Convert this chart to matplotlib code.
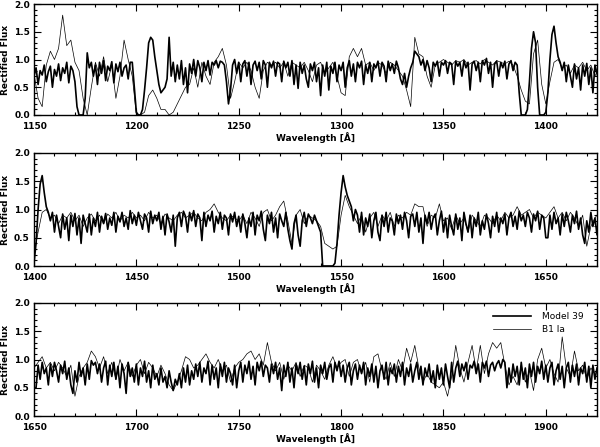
import numpy as np
import matplotlib
matplotlib.use("Agg")
import matplotlib.pyplot as plt
from matplotlib.ticker import MultipleLocator

# ---------------- data ----------------
# Model 39 (thick line), 1 Angstrom sampling starting at 1150 A
model_1150 = [0.70, 0.85, 0.55, 0.80, 0.72, 0.90, 0.60, 0.78, 0.88, 0.50,
              0.82, 0.70, 0.92, 0.62, 0.85, 0.75, 0.95, 0.58, 0.88, 0.80,
              0.60, 0.15, 0.00, 0.00, 0.00, 0.30, 1.12, 0.85, 0.95, 0.70,
              0.90, 0.55, 0.95, 0.75, 0.98, 0.62, 0.88, 0.80, 0.96, 0.58,
              0.92, 0.78, 0.95, 0.70, 0.85, 0.90, 0.65, 0.95, 0.95, 0.50]
model_1200 = [0.05, 0.00, 0.00, 0.10, 0.45, 0.85, 1.30, 1.40, 1.35, 1.05,
              0.80, 0.55, 0.40, 0.45, 0.50, 0.65, 1.40, 0.70, 0.95, 0.60,
              0.90, 0.65, 0.98, 0.55, 0.85, 0.40, 0.92, 0.75, 1.00, 0.70,
              0.98, 0.85, 0.60, 0.95, 0.80, 0.98, 0.72, 0.95, 0.90, 0.98,
              0.85, 0.97, 0.95, 0.90, 0.60, 0.20, 0.45, 0.90, 1.00, 0.75]
model_1250 = [0.95, 0.60, 0.92, 0.98, 0.70, 0.95, 0.55, 0.90, 0.97, 0.80,
              0.95, 0.65, 0.98, 0.90, 0.50, 0.95, 0.85, 0.97, 0.70, 0.95,
              0.92, 0.60, 0.97, 0.85, 0.95, 0.70, 0.98, 0.55, 0.90, 0.48,
              0.95, 0.75, 0.90, 0.65, 0.50, 0.92, 0.80, 0.95, 0.60, 0.85,
              0.35, 0.90, 0.70, 0.95, 0.45, 0.88, 0.75, 0.95, 0.60, 0.90]
model_1300 = [0.80, 0.95, 0.50, 0.85, 0.98, 0.70, 0.92, 0.60, 0.95, 0.85,
              0.97, 0.55, 0.90, 0.75, 0.95, 0.60, 0.92, 0.85, 0.97, 0.70,
              0.95, 0.88, 0.60, 0.97, 0.80, 0.92, 0.75, 0.97, 0.85, 0.65,
              0.55, 0.75, 0.50, 0.70, 0.85, 0.95, 1.15, 1.10, 1.05, 0.90,
              1.00, 0.80, 0.98, 0.85, 0.60, 0.95, 0.88, 0.97, 0.70, 0.95]
model_1350 = [0.90, 0.98, 0.75, 0.95, 0.92, 0.55, 0.97, 0.88, 0.95, 0.70,
              0.98, 0.85, 0.95, 0.45, 0.92, 0.97, 0.80, 0.95, 0.60, 0.98,
              0.90, 1.02, 0.75, 0.95, 0.50, 0.92, 0.97, 0.70, 0.95, 0.85,
              0.97, 0.65, 0.92, 0.98, 0.80, 0.95, 0.90, 0.40, 0.00, 0.00,
              0.00, 0.10, 0.60, 1.20, 1.50, 1.30, 0.50, 0.00, 0.00, 0.00]
model_1400 = [0.05, 0.40, 1.00, 1.45, 1.60, 1.30, 1.05, 0.95, 0.80, 0.95,
              0.60, 0.90, 0.70, 0.50, 0.92, 0.65, 0.85, 0.45, 0.90, 0.70,
              0.93, 0.55, 0.85, 0.40, 0.90, 0.75, 0.60, 0.92, 0.55, 0.85,
              0.70, 0.95, 0.60, 0.88, 0.75, 0.93, 0.65, 0.85, 0.72, 0.95,
              0.60, 0.88, 0.78, 0.95, 0.70, 0.85, 0.65, 0.98, 0.75, 0.90]
model_1450 = [0.72, 0.95, 0.80, 0.65, 0.92, 0.85, 0.60, 0.97, 0.75, 0.90,
              0.80, 0.95, 0.65, 0.88, 0.55, 0.92, 0.78, 0.60, 0.90, 0.35,
              0.85, 0.95, 0.70, 0.97, 0.88, 0.60, 0.95, 0.80, 0.98, 0.70,
              0.92, 0.85, 0.45, 0.95, 0.70, 0.90, 0.80, 0.97, 0.60, 0.88,
              0.75, 0.95, 0.65, 0.90, 0.85, 0.55, 0.92, 0.78, 0.95, 0.70]
model_1500 = [0.88, 0.60, 0.92, 0.75, 0.50, 0.85, 0.70, 0.95, 0.55, 0.90,
              0.80, 0.97, 0.65, 0.45, 0.90, 0.75, 0.95, 0.60, 0.85, 0.50,
              0.92, 0.80, 0.70, 0.95, 0.65, 0.45, 0.30, 0.75, 0.90, 0.55,
              0.35, 0.80, 0.95, 0.70, 0.92, 0.85, 0.75, 0.90, 0.80, 0.70,
              0.60, 0.00, 0.00, 0.00, 0.00, 0.00, 0.00, 0.05, 0.40, 0.90]
model_1550 = [1.30, 1.60, 1.40, 1.25, 1.15, 1.05, 0.80, 1.00, 0.90, 0.60,
              0.95, 0.55, 0.85, 0.70, 0.92, 0.50, 0.80, 0.95, 0.60, 0.45,
              0.90, 0.70, 0.95, 0.60, 0.85, 0.80, 0.55, 0.92, 0.75, 0.90,
              0.65, 0.95, 0.80, 0.50, 0.88, 0.92, 0.70, 0.95, 0.60, 0.85,
              0.40, 0.90, 0.75, 0.95, 0.65, 0.85, 0.92, 0.55, 0.80, 0.97]
model_1600 = [0.60, 0.85, 0.50, 0.90, 0.70, 0.55, 0.92, 0.65, 0.85, 0.45,
              0.95, 0.75, 0.60, 0.90, 0.50, 0.85, 0.70, 0.95, 0.55, 0.80,
              0.65, 0.92, 0.75, 0.50, 0.88, 0.70, 0.95, 0.60, 0.85, 0.75,
              0.92, 0.55, 0.85, 0.95, 0.70, 0.88, 0.65, 0.97, 0.80, 0.90,
              0.70, 0.95, 0.85, 0.60, 0.92, 0.80, 0.97, 0.65, 0.90, 0.85]
model_1650 = [0.50, 0.50, 0.90, 0.65, 0.95, 0.75, 0.85, 0.55, 0.92, 0.70,
              0.95, 0.80, 0.60, 0.90, 0.75, 0.97, 0.65, 0.85, 0.55, 0.40,
              0.80, 0.60, 0.95, 0.70, 0.85, 0.55, 0.92, 0.65, 0.98, 0.90,
              0.95, 0.75, 0.92, 0.60, 0.85, 0.97, 0.55, 0.90, 0.70, 0.95,
              0.65, 0.88, 0.50, 0.92, 0.75, 0.40, 0.95, 0.70, 0.85, 0.60]
model_1700 = [0.92, 0.55, 0.85, 0.70, 0.97, 0.60, 0.80, 0.50, 0.90, 0.65,
              0.75, 0.55, 0.85, 0.60, 0.70, 0.50, 0.80, 0.60, 0.45, 0.65,
              0.55, 0.75, 0.50, 0.85, 0.60, 0.90, 0.55, 0.80, 0.65, 0.92,
              0.70, 0.95, 0.60, 0.85, 0.75, 0.97, 0.55, 0.90, 0.65, 0.85,
              0.50, 0.92, 0.70, 0.95, 0.60, 0.85, 0.75, 0.55, 0.90, 0.50]
model_1750 = [0.80, 0.95, 0.60, 0.90, 0.75, 0.97, 0.65, 0.88, 0.55, 0.95,
              0.80, 0.97, 0.70, 0.90, 0.85, 0.60, 0.92, 0.75, 0.95, 0.65,
              0.85, 0.45, 0.90, 0.70, 0.95, 0.60, 0.85, 0.50, 0.92, 0.75,
              0.95, 0.65, 0.88, 0.55, 0.92, 0.75, 0.97, 0.60, 0.85, 0.50,
              0.90, 0.75, 0.95, 0.65, 0.85, 0.92, 0.60, 0.95, 0.80, 0.97]
model_1800 = [0.70, 0.90, 0.60, 0.85, 0.95, 0.55, 0.80, 0.92, 0.65, 0.90,
              0.75, 0.95, 0.55, 0.85, 0.70, 0.92, 0.60, 0.88, 0.50, 0.80,
              0.90, 0.65, 0.95, 0.55, 0.85, 0.75, 0.92, 0.60, 0.88, 0.70,
              0.95, 0.55, 0.85, 0.70, 0.92, 0.60, 0.80, 0.95, 0.65, 0.88,
              0.55, 0.85, 0.70, 0.92, 0.60, 0.80, 0.50, 0.90, 0.65, 0.85]
model_1850 = [0.55, 0.92, 0.70, 0.50, 0.95, 0.60, 0.85, 0.97, 0.70, 0.92,
              0.80, 0.95, 0.65, 0.90, 0.85, 0.97, 0.75, 0.92, 0.60, 0.95,
              0.85, 0.97, 0.70, 0.90, 0.95, 0.80, 0.92, 0.98, 0.85, 1.00,
              0.95, 0.50, 0.85, 0.60, 0.92, 0.70, 0.88, 0.55, 0.95, 0.65,
              0.85, 0.50, 0.92, 0.70, 0.95, 0.60, 0.88, 0.75, 0.97, 0.65]
model_1900 = [0.90, 0.60, 0.85, 0.95, 0.55, 0.80, 0.92, 0.65, 0.88, 0.50,
              0.85, 0.95, 0.60, 0.90, 0.70, 0.92, 0.55, 0.85, 0.75, 0.95,
              0.60, 0.88, 0.50, 0.90, 0.65, 0.85]

# B1 Ia (thin line), 2 Angstrom sampling starting at 1150 A
star_1150 = [0.75, 0.30, 0.15, 0.90, 1.15, 1.00, 1.20, 1.80, 1.25, 1.35,
             0.95, 0.80, 0.30, 0.00, 0.50, 0.95, 0.70, 1.05, 0.60, 0.90,
             0.30, 0.70, 1.35, 1.00, 0.70]
star_1200 = [0.00, 0.00, 0.05, 0.35, 0.45, 0.30, 0.10, 0.10, 0.00, 0.05,
             0.20, 0.35, 0.50, 0.55, 0.85, 0.50, 0.95, 0.70, 0.55, 0.95,
             1.05, 1.20, 0.90, 0.30, 0.60]
star_1250 = [0.95, 0.85, 0.95, 0.80, 0.50, 0.30, 0.80, 0.95, 0.90, 0.95,
             0.85, 0.95, 0.70, 0.95, 0.90, 0.85, 0.95, 0.80, 0.60, 0.90,
             0.95, 0.75, 0.85, 0.95, 0.70]
star_1300 = [0.40, 0.35, 1.05, 1.20, 1.05, 1.20, 0.90, 0.95, 0.80, 0.95,
             0.90, 0.75, 0.95, 0.90, 0.80, 0.70, 0.45, 0.15, 1.40, 1.10,
             1.05, 0.70, 0.50, 0.90, 0.95]
star_1350 = [1.00, 0.95, 0.90, 0.98, 0.95, 1.00, 0.90, 0.95, 0.98, 0.92,
             1.00, 0.95, 0.90, 0.98, 0.95, 0.92, 0.97, 0.90, 0.70, 0.45,
             0.25, 0.20, 1.10, 1.35, 0.55]
star_1400 = [0.20, 0.60, 0.95, 1.00, 0.85, 0.90, 0.75, 0.90, 0.85, 0.95,
             0.80, 0.90, 0.70, 0.85, 0.92, 0.80, 0.90, 0.75, 0.92, 0.85,
             0.95, 0.80, 0.90, 0.85, 0.95]
star_1450 = [0.85, 0.90, 0.80, 0.95, 0.85, 0.90, 0.75, 0.92, 0.85, 0.80,
             0.90, 0.95, 0.85, 0.90, 0.95, 0.85, 0.80, 0.95, 1.00, 1.10,
             0.95, 0.85, 0.80, 0.90, 0.85]
star_1500 = [0.80, 0.90, 0.75, 0.95, 0.85, 0.70, 0.95, 1.00, 0.80, 0.90,
             1.05, 1.15, 0.80, 0.40, 0.90, 1.00, 0.75, 0.90, 0.85, 0.80,
             0.70, 0.40, 0.35, 0.30, 0.35]
star_1550 = [0.90, 1.25, 1.05, 0.90, 0.75, 0.90, 0.60, 0.85, 0.95, 0.70,
             0.90, 0.80, 0.95, 0.70, 0.90, 0.85, 0.95, 0.90, 1.10, 1.05,
             1.05, 0.70, 0.90, 0.85, 1.10]
star_1600 = [0.80, 0.85, 0.65, 0.90, 0.75, 0.85, 0.60, 0.90, 0.80, 0.70,
             0.90, 0.85, 0.75, 0.90, 0.80, 0.95, 0.85, 0.90, 1.05, 0.90,
             0.95, 1.00, 0.85, 0.95, 0.90]
star_1650 = [0.85, 0.95, 1.05, 0.85, 0.95, 0.80, 0.95, 0.85, 0.70, 0.90,
             0.35, 0.70, 0.85, 0.95, 1.15, 1.05, 0.85, 1.05, 0.75, 0.95,
             0.65, 1.00, 0.80, 0.95, 0.70]
star_1700 = [0.90, 1.00, 0.75, 0.95, 0.85, 0.70, 0.90, 0.75, 0.55, 0.45,
             0.60, 0.80, 1.05, 1.00, 0.85, 0.90, 1.00, 1.10, 0.95, 0.85,
             1.00, 0.80, 0.90, 0.60, 0.85]
star_1750 = [0.95, 1.00, 1.10, 1.15, 1.00, 1.10, 0.90, 1.30, 0.95, 0.80,
             0.95, 0.65, 0.90, 0.80, 0.95, 0.70, 0.90, 0.85, 0.60, 0.90,
             0.80, 0.65, 0.90, 1.05, 0.85]
star_1800 = [0.95, 1.00, 0.70, 0.95, 1.00, 0.75, 0.95, 0.60, 1.05, 1.10,
             0.80, 0.65, 0.95, 0.70, 1.00, 0.80, 1.20, 0.95, 1.25, 0.85,
             0.60, 0.75, 0.60, 0.55, 0.50]
star_1850 = [0.60, 0.35, 0.70, 1.25, 0.85, 0.60, 0.95, 1.25, 0.80, 1.25,
             0.75, 1.10, 1.30, 1.20, 1.30, 0.90, 0.55, 0.70, 0.55, 0.90,
             0.60, 0.80, 0.45, 1.00, 1.20]
star_1900 = [0.85, 1.00, 0.75, 0.60, 1.40, 0.85, 0.70, 1.15, 0.80, 0.90,
             0.65, 0.85, 0.75]

panel_ranges = [(1150, 1425), (1400, 1675), (1650, 1925)]
series_labels = ["Model 39", "B1 Ia"]
xlabel_text = "Wavelength [\u00c5]"
ylabel_text = "Rectified Flux"

model_flux = np.concatenate([model_1150, model_1200, model_1250, model_1300,
                             model_1350, model_1400, model_1450, model_1500,
                             model_1550, model_1600, model_1650, model_1700,
                             model_1750, model_1800, model_1850, model_1900])
model_wave = 1150 + np.arange(len(model_flux)) * 1.0
star_flux = np.concatenate([star_1150, star_1200, star_1250, star_1300,
                            star_1350, star_1400, star_1450, star_1500,
                            star_1550, star_1600, star_1650, star_1700,
                            star_1750, star_1800, star_1850, star_1900])
star_wave = 1150 + np.arange(len(star_flux)) * 2.0

# ---------------- figure ----------------
plt.rcParams['font.family'] = ['DejaVu Sans']
fig = plt.figure(figsize=(6.0, 4.47), dpi=100)

left, width = 34 / 600, 563 / 600
tops = [4, 153, 303]
bottoms = [115, 266, 416]

for i, (x0, x1) in enumerate(panel_ranges):
    b = 1 - bottoms[i] / 447
    h = (bottoms[i] - tops[i]) / 447
    ax = fig.add_axes([left, b, width, h])
    ax.plot(star_wave, star_flux, color='black', lw=0.5, label=series_labels[1], zorder=2)
    ax.plot(model_wave, model_flux, color='black', lw=1.2, label=series_labels[0], zorder=3)
    ax.set_xlim(x0, x1)
    ax.set_ylim(0, 2)
    ax.xaxis.set_major_locator(MultipleLocator(50))
    ax.xaxis.set_minor_locator(MultipleLocator(10))
    ax.yaxis.set_major_locator(MultipleLocator(0.5))
    ax.yaxis.set_minor_locator(MultipleLocator(0.1))
    ax.tick_params(which='both', direction='in', top=True, right=True,
                   labelsize=6.5, width=0.8)
    ax.tick_params(axis='x', which='both', pad=5)
    ax.tick_params(axis='y', which='both', pad=3)
    ax.tick_params(which='major', length=5)
    ax.tick_params(which='minor', length=2.5)
    ax.yaxis.set_major_formatter(matplotlib.ticker.FormatStrFormatter('%.1f'))
    for lab in ax.get_xticklabels() + ax.get_yticklabels():
        lab.set_fontweight('bold')
    for sp in ax.spines.values():
        sp.set_linewidth(1.0)
    ax.set_xlabel(xlabel_text, fontsize=6.5, fontweight='bold', labelpad=1)
    ax.set_ylabel(ylabel_text, fontsize=6.5, fontweight='bold', labelpad=3)
    if i == 2:
        handles, labels = ax.get_legend_handles_labels()
        order = [labels.index(series_labels[0]), labels.index(series_labels[1])]
        ax.legend([handles[k] for k in order], [labels[k] for k in order],
                  loc='upper right', bbox_to_anchor=(0.985, 0.97), frameon=False,
                  fontsize=6.5, handlelength=4.2, handletextpad=1.2,
                  labelspacing=0.5, borderaxespad=0.2)

fig.savefig("out.png", dpi=100)
